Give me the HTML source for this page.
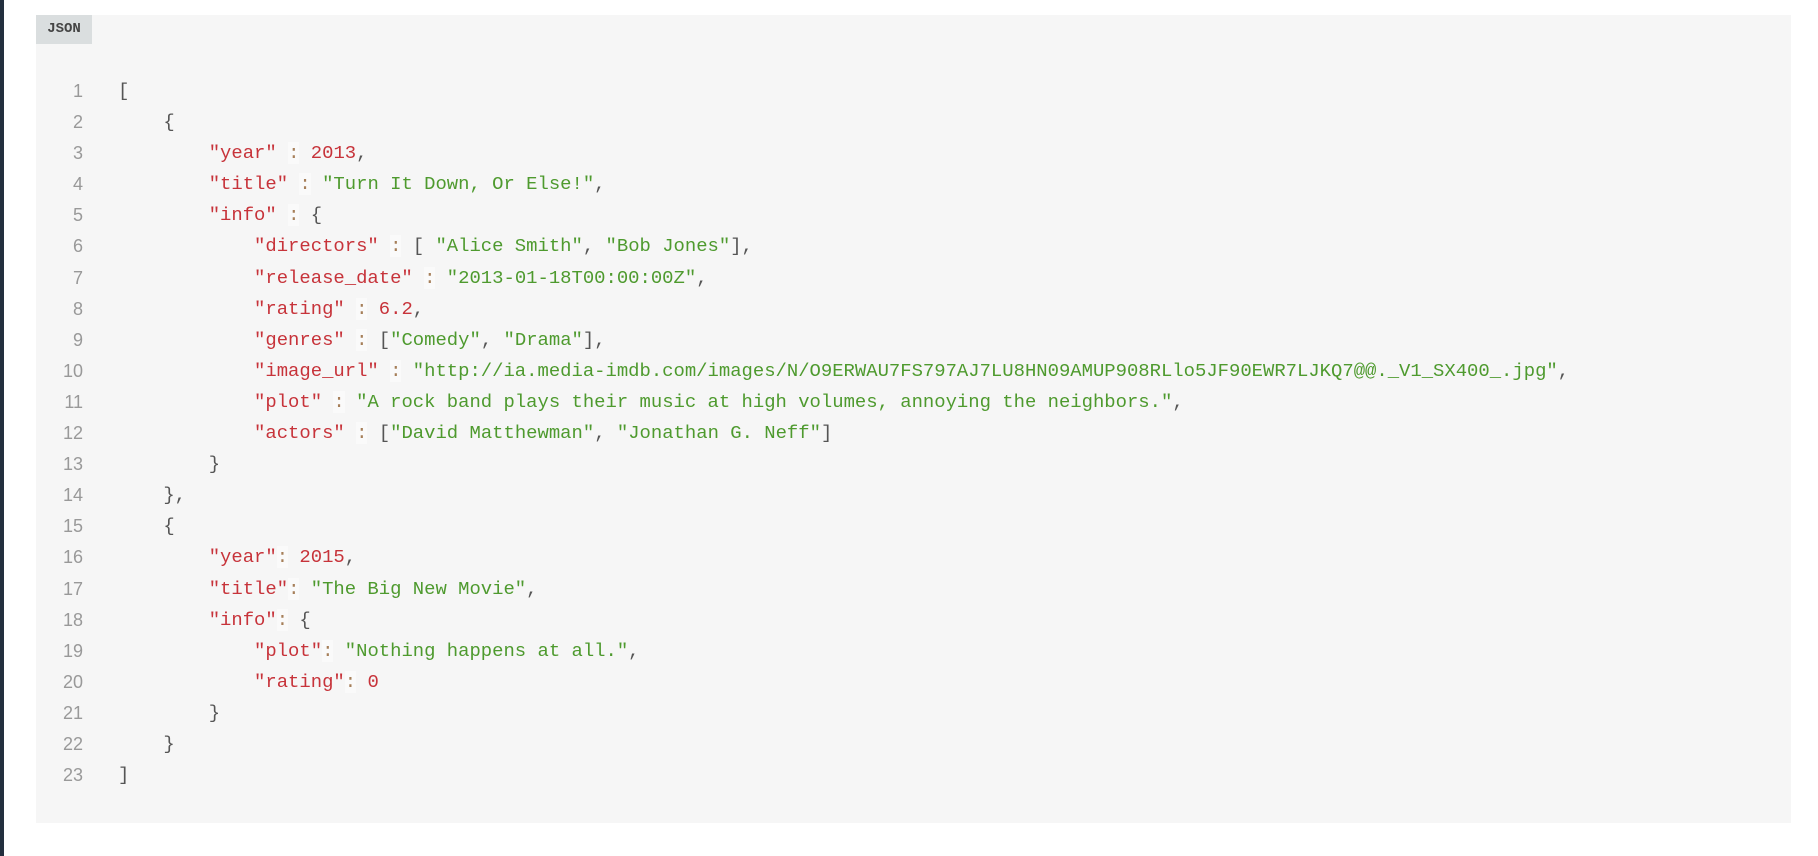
<!DOCTYPE html>
<html><head><meta charset="utf-8"><style>
html,body{margin:0;padding:0;background:#fff;width:1818px;height:856px;overflow:hidden;position:relative}
.bar{position:absolute;left:0;top:0;width:4px;height:856px;background:#232f3e}
.panel{position:absolute;left:36px;top:15px;width:1755px;height:808px;background:#f6f6f6}
.tag{position:absolute;left:36px;top:15px;width:56px;height:29px;background:#dadedf;font:bold 14px "Liberation Mono",monospace;color:#444;line-height:29px;text-align:center}
.nums{position:absolute;left:40px;top:76px;width:43px;text-align:right;font:18px "Liberation Sans",sans-serif;color:#999;line-height:31.1px}
pre{position:absolute;left:118px;top:76px;margin:0;font:18.9px "Liberation Mono",monospace;line-height:31.1px;color:#555}
.k{color:#c7333a}.s{color:#4e9a2e}.n{color:#c7333a}.c{color:#a67f59;background:#fafafa}
</style></head><body>
<div class="bar"></div>
<div class="panel"></div>
<div class="tag">JSON</div>
<div class="nums">1<br>2<br>3<br>4<br>5<br>6<br>7<br>8<br>9<br>10<br>11<br>12<br>13<br>14<br>15<br>16<br>17<br>18<br>19<br>20<br>21<br>22<br>23</div>
<pre>[
    {
        <span class="k">"year"</span> <span class="c">:</span> <span class="n">2013</span>,
        <span class="k">"title"</span> <span class="c">:</span> <span class="s">"Turn It Down, Or Else!"</span>,
        <span class="k">"info"</span> <span class="c">:</span> {
            <span class="k">"directors"</span> <span class="c">:</span> [ <span class="s">"Alice Smith"</span>, <span class="s">"Bob Jones"</span>],
            <span class="k">"release_date"</span> <span class="c">:</span> <span class="s">"2013-01-18T00:00:00Z"</span>,
            <span class="k">"rating"</span> <span class="c">:</span> <span class="n">6.2</span>,
            <span class="k">"genres"</span> <span class="c">:</span> [<span class="s">"Comedy"</span>, <span class="s">"Drama"</span>],
            <span class="k">"image_url"</span> <span class="c">:</span> <span class="s">"http://ia.media-imdb.com/images/N/O9ERWAU7FS797AJ7LU8HN09AMUP908RLlo5JF90EWR7LJKQ7@@._V1_SX400_.jpg"</span>,
            <span class="k">"plot"</span> <span class="c">:</span> <span class="s">"A rock band plays their music at high volumes, annoying the neighbors."</span>,
            <span class="k">"actors"</span> <span class="c">:</span> [<span class="s">"David Matthewman"</span>, <span class="s">"Jonathan G. Neff"</span>]
        }
    },
    {
        <span class="k">"year"</span><span class="c">:</span> <span class="n">2015</span>,
        <span class="k">"title"</span><span class="c">:</span> <span class="s">"The Big New Movie"</span>,
        <span class="k">"info"</span><span class="c">:</span> {
            <span class="k">"plot"</span><span class="c">:</span> <span class="s">"Nothing happens at all."</span>,
            <span class="k">"rating"</span><span class="c">:</span> <span class="n">0</span>
        }
    }
]</pre>
</body></html>
